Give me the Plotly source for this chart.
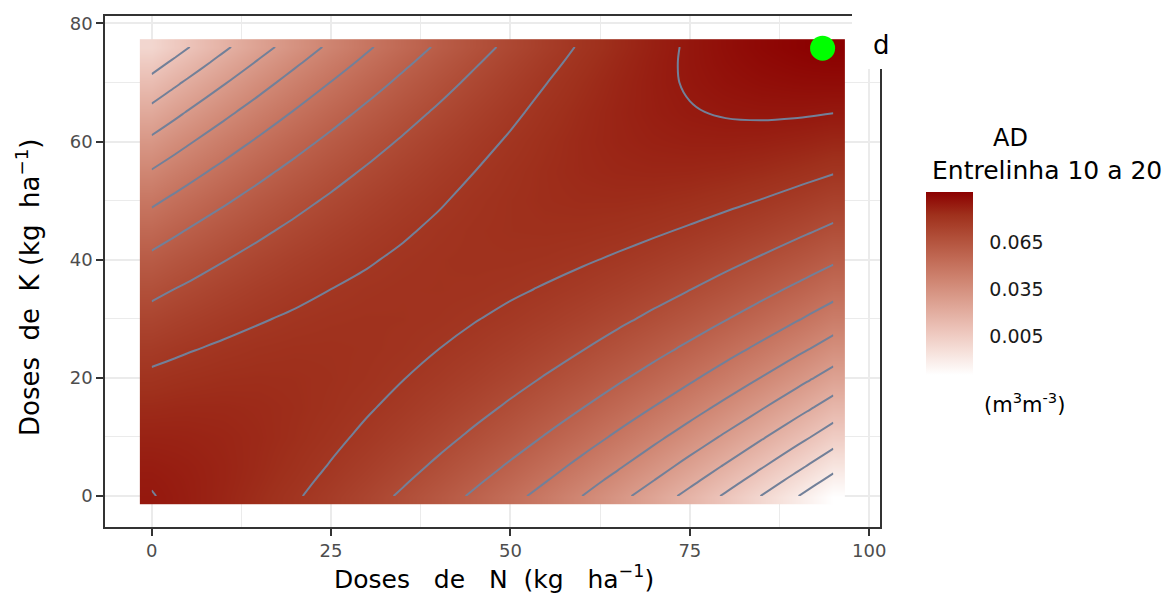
import plotly.graph_objects as go
import numpy as np

# ---------------- data ----------------
dose_N = [0, 3.28, 5, 10, 15, 20, 25, 30, 35, 40, 45, 50, 55, 60, 65, 70, 75, 80, 85, 90, 91.72, 95]
dose_K = [0, 2.62, 5, 10, 15, 20, 25, 30, 35, 40, 45, 50, 55, 60, 65, 70, 73.38, 76]

# AD (m3 m-3), one row per K dose, columns follow dose_N
ad_K000 = [0.09020, 0.08915, 0.08852, 0.08638, 0.08379, 0.08074, 0.07724, 0.07328, 0.06887, 0.06400, 0.05868, 0.05290, 0.04667, 0.03998, 0.03284, 0.02524, 0.01719, 0.00868, -0.00028, -0.00970, -0.01304, -0.01957]
ad_K003 = [0.08966, 0.08885, 0.08835, 0.08659, 0.08437, 0.08170, 0.07857, 0.07499, 0.07095, 0.06646, 0.06152, 0.05612, 0.05026, 0.04395, 0.03718, 0.02996, 0.02228, 0.01415, 0.00556, -0.00348, -0.00669, -0.01297]
ad_K005 = [0.08900, 0.08842, 0.08804, 0.08662, 0.08474, 0.08241, 0.07963, 0.07639, 0.07269, 0.06854, 0.06394, 0.05888, 0.05336, 0.04739, 0.04097, 0.03409, 0.02675, 0.01896, 0.01072, 0.00202, -0.00108, -0.00714]
ad_K010 = [0.08714, 0.08703, 0.08689, 0.08619, 0.08503, 0.08342, 0.08135, 0.07883, 0.07585, 0.07242, 0.06853, 0.06419, 0.05939, 0.05414, 0.04843, 0.04227, 0.03565, 0.02858, 0.02105, 0.01307, 0.01022, 0.00463]
ad_K015 = [0.08461, 0.08497, 0.08508, 0.08510, 0.08466, 0.08376, 0.08241, 0.08061, 0.07835, 0.07563, 0.07246, 0.06884, 0.06476, 0.06022, 0.05523, 0.04979, 0.04389, 0.03753, 0.03072, 0.02346, 0.02085, 0.01574]
ad_K020 = [0.08142, 0.08225, 0.08261, 0.08334, 0.08362, 0.08344, 0.08281, 0.08172, 0.08018, 0.07818, 0.07573, 0.07282, 0.06946, 0.06564, 0.06137, 0.05664, 0.05146, 0.04582, 0.03973, 0.03318, 0.03082, 0.02618]
ad_K025 = [0.07756, 0.07886, 0.07947, 0.08092, 0.08191, 0.08245, 0.08254, 0.08217, 0.08134, 0.08006, 0.07833, 0.07614, 0.07349, 0.07039, 0.06684, 0.06283, 0.05836, 0.05344, 0.04807, 0.04224, 0.04013, 0.03595]
ad_K030 = [0.07304, 0.07481, 0.07566, 0.07783, 0.07954, 0.08080, 0.08160, 0.08195, 0.08184, 0.08128, 0.08026, 0.07879, 0.07686, 0.07448, 0.07164, 0.06835, 0.06460, 0.06040, 0.05574, 0.05063, 0.04877, 0.04506]
ad_K035 = [0.06785, 0.07009, 0.07119, 0.07408, 0.07651, 0.07848, 0.08000, 0.08107, 0.08168, 0.08183, 0.08153, 0.08078, 0.07957, 0.07790, 0.07578, 0.07321, 0.07018, 0.06669, 0.06275, 0.05836, 0.05674, 0.05351]
ad_K040 = [0.06200, 0.06471, 0.06606, 0.06966, 0.07281, 0.07550, 0.07774, 0.07952, 0.08085, 0.08172, 0.08214, 0.08210, 0.08161, 0.08066, 0.07926, 0.07740, 0.07509, 0.07232, 0.06910, 0.06542, 0.06405, 0.06129]
ad_K045 = [0.05548, 0.05867, 0.06026, 0.06458, 0.06844, 0.07185, 0.07481, 0.07731, 0.07935, 0.08094, 0.08208, 0.08276, 0.08298, 0.08275, 0.08207, 0.08093, 0.07933, 0.07728, 0.07478, 0.07182, 0.07069, 0.06840]
ad_K050 = [0.04830, 0.05195, 0.05379, 0.05883, 0.06341, 0.06754, 0.07121, 0.07443, 0.07719, 0.07950, 0.08135, 0.08275, 0.08369, 0.08418, 0.08421, 0.08379, 0.08291, 0.08158, 0.07979, 0.07755, 0.07667, 0.07485]
ad_K055 = [0.04045, 0.04458, 0.04666, 0.05242, 0.05772, 0.06256, 0.06695, 0.07089, 0.07437, 0.07739, 0.07996, 0.08208, 0.08374, 0.08494, 0.08569, 0.08599, 0.08583, 0.08521, 0.08414, 0.08262, 0.08199, 0.08064]
ad_K060 = [0.03194, 0.03654, 0.03887, 0.04534, 0.05136, 0.05692, 0.06203, 0.06668, 0.07088, 0.07462, 0.07791, 0.08074, 0.08312, 0.08504, 0.08651, 0.08752, 0.08808, 0.08818, 0.08783, 0.08702, 0.08664, 0.08576]
ad_K065 = [0.02276, 0.02783, 0.03041, 0.03760, 0.04433, 0.05061, 0.05644, 0.06181, 0.06672, 0.07118, 0.07519, 0.07874, 0.08183, 0.08447, 0.08666, 0.08839, 0.08966, 0.09048, 0.09085, 0.09076, 0.09062, 0.09021]
ad_K070 = [0.01292, 0.01846, 0.02128, 0.02919, 0.03664, 0.04364, 0.05018, 0.05627, 0.06190, 0.06708, 0.07180, 0.07607, 0.07988, 0.08324, 0.08614, 0.08859, 0.09058, 0.09212, 0.09320, 0.09383, 0.09394, 0.09400]
ad_K073 = [0.00589, 0.01175, 0.01474, 0.02313, 0.03107, 0.03855, 0.04558, 0.05215, 0.05827, 0.06393, 0.06914, 0.07389, 0.07819, 0.08203, 0.08542, 0.08835, 0.09083, 0.09285, 0.09442, 0.09553, 0.09581, 0.09619]
ad_K076 = [0.00023, 0.00633, 0.00945, 0.01822, 0.02654, 0.03440, 0.04180, 0.04875, 0.05524, 0.06128, 0.06686, 0.07199, 0.07666, 0.08088, 0.08465, 0.08796, 0.09081, 0.09321, 0.09515, 0.09664, 0.09705, 0.09767]

optimum_N = [93.5]
optimum_K = [75.8]

contour_start = -0.02
contour_step = 0.01
contour_end = 0.095

colorbar_ticks = [0.005, 0.035, 0.065]
colorbar_ticktext = ["0.005", "0.035", "0.065"]

x_title = "Doses\u00a0\u00a0 de\u00a0\u00a0 N\u00a0 (kg\u00a0\u00a0 ha<sup>\u22121</sup>)"
y_title = "Doses\u00a0 de\u00a0 K (kg\u00a0 ha<sup>\u22121</sup>)"
legend_title_1 = "AD"
legend_title_2 = "Entrelinha 10 a 20"
legend_unit = "(m<sup>3</sup>m<sup>-3</sup>)"
panel_label = "d"

ad_surface = [ad_K000, ad_K003, ad_K005, ad_K010, ad_K015, ad_K020, ad_K025, ad_K030, ad_K035,
              ad_K040, ad_K045, ad_K050, ad_K055, ad_K060, ad_K065, ad_K070, ad_K073, ad_K076]

# ---------------- layout helpers ----------------
W, H = 1173, 595
ML, MR, MT, MB = 105, 293, 16, 68
PW = W - ML - MR
PH = H - MT - MB


def pxx(xp):
    return (xp - ML) / PW


def pxy(yp):
    return 1 - (yp - MT) / PH


FONT = "DejaVu Sans"

colorscale = [
    [0.0, "rgb(255,255,255)"],
    [0.125, "rgb(246,225,219)"],
    [0.25, "rgb(236,195,185)"],
    [0.375, "rgb(223,166,151)"],
    [0.5, "rgb(209,137,118)"],
    [0.625, "rgb(194,108,87)"],
    [0.75, "rgb(177,79,57)"],
    [0.875, "rgb(159,48,28)"],
    [1.0, "rgb(139,0,0)"],
]

zarr = np.array(ad_surface)
zmin, zmax = float(zarr.min()), float(zarr.max())
bar_len = (zmax - zmin) / 0.03 * 46.7
bar_center_px = 283

fig = go.Figure()

fig.add_trace(go.Heatmap(
    x=dose_N, y=dose_K, z=ad_surface,
    zsmooth="best", colorscale=colorscale,
    zmin=zmin, zmax=zmax,
    hoverinfo="skip",
    colorbar=dict(
        x=pxx(926), xanchor="left", xpad=0,
        y=pxy(bar_center_px), yanchor="middle", ypad=0,
        thickness=47, thicknessmode="pixels",
        len=bar_len, lenmode="pixels",
        outlinewidth=0,
        tickmode="array", tickvals=colorbar_ticks, ticktext=colorbar_ticktext,
        ticks="outside", ticklen=13, tickcolor="rgba(255,255,255,0)", tickwidth=1,
        tickfont=dict(family=FONT, size=19, color="#1a1a1a"),
    ),
))

fig.add_trace(go.Contour(
    x=dose_N, y=dose_K, z=ad_surface,
    contours=dict(start=contour_start, end=contour_end, size=contour_step, coloring="none"),
    line=dict(color="#728099", width=2, smoothing=1),
    showscale=False, hoverinfo="skip",
))

fig.add_trace(go.Scatter(
    x=optimum_N, y=optimum_K, mode="markers",
    marker=dict(color="#00ff00", size=25, line=dict(width=0)),
    showlegend=False, hoverinfo="skip", cliponaxis=False,
))

axis_common = dict(
    showline=True, mirror=True, linecolor="#333333", linewidth=1.5,
    ticks="outside", ticklen=7, tickwidth=1.5, tickcolor="#333333",
    showgrid=True, gridcolor="#EBEBEB", gridwidth=1.6,
    zeroline=False,
    tickfont=dict(family=FONT, size=18, color="#4D4D4D"),
)

fig.update_layout(
    width=W, height=H, autosize=False,
    margin=dict(l=ML, r=MR, t=MT, b=MB, pad=0),
    paper_bgcolor="white", plot_bgcolor="white",
    showlegend=False,
    xaxis=dict(range=[-6.5, 101.5], tick0=0, dtick=25,
               minor=dict(dtick=12.5, tick0=0, showgrid=True, gridcolor="#EBEBEB", gridwidth=0.9, ticks=""),
               **axis_common),
    yaxis=dict(range=[-5.24, 81.24], tick0=0, dtick=20,
               minor=dict(dtick=10, tick0=0, showgrid=True, gridcolor="#EBEBEB", gridwidth=0.9, ticks=""),
               **axis_common),
    shapes=[dict(type="rect", xref="paper", yref="paper",
                 x0=pxx(852), x1=pxx(915), y0=pxy(69), y1=pxy(0),
                 fillcolor="white", line=dict(width=0), layer="above")],
    annotations=[
        dict(text=x_title, xref="paper", yref="paper", x=pxx(494), y=pxy(577),
             xanchor="center", yanchor="middle", showarrow=False,
             font=dict(family=FONT, size=25, color="black")),
        dict(text=y_title, xref="paper", yref="paper", x=pxx(28), y=pxy(287),
             xanchor="center", yanchor="middle", showarrow=False, textangle=-90,
             font=dict(family=FONT, size=26, color="black")),
        dict(text=legend_title_1, xref="paper", yref="paper", x=pxx(1010), y=pxy(138),
             xanchor="center", yanchor="middle", showarrow=False,
             font=dict(family=FONT, size=24, color="black")),
        dict(text=legend_title_2, xref="paper", yref="paper", x=pxx(1047), y=pxy(170),
             xanchor="center", yanchor="middle", showarrow=False,
             font=dict(family=FONT, size=25, color="black")),
        dict(text=legend_unit, xref="paper", yref="paper", x=pxx(1024), y=pxy(403),
             xanchor="center", yanchor="middle", showarrow=False,
             font=dict(family=FONT, size=21, color="black")),
        dict(text=panel_label, xref="paper", yref="paper", x=pxx(881), y=pxy(45),
             xanchor="center", yanchor="middle", showarrow=False,
             font=dict(family=FONT, size=26, color="black")),
    ],
)

fig.write_html("out.html")
